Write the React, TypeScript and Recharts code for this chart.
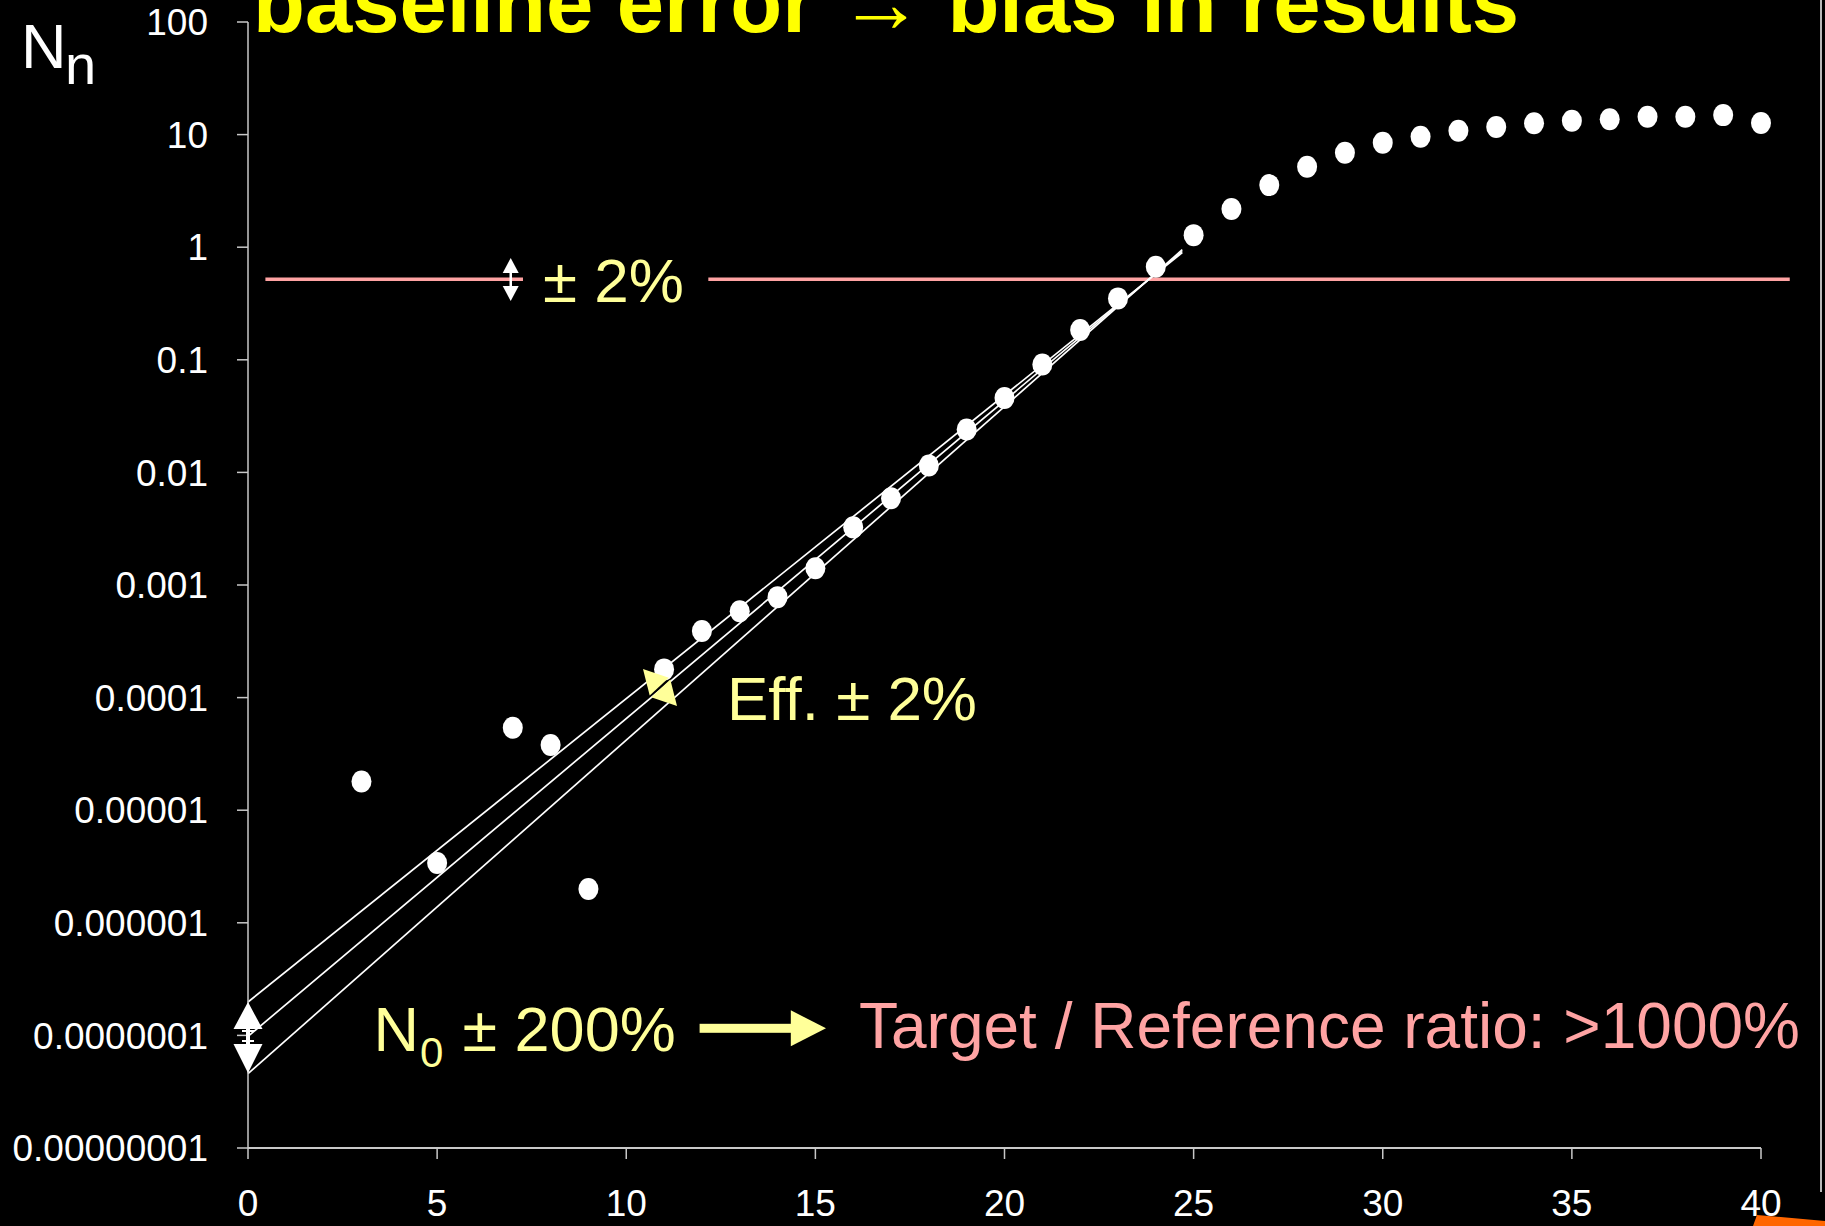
import React from 'react';
import { ComposedChart, XAxis, YAxis, Scatter, Line, ReferenceLine } from 'recharts';

// ---- data ----
const cycles = [3, 5, 7, 8, 9, 11, 12, 13, 14, 15, 16, 17, 18, 19, 20, 21, 22, 23, 24, 25, 26, 27, 28, 29, 30, 31, 32, 33, 34, 35, 36, 37, 38, 39, 40];
const fluorescence = [
  1.8e-5, 3.4e-6, 5.4e-5, 3.8e-5, 2.0e-6,
  1.78e-4, 3.9e-4, 5.85e-4, 7.8e-4, 1.41e-3, 3.25e-3, 5.9e-3,
  0.0115, 0.024, 0.0457, 0.091, 0.184, 0.351, 0.67, 1.28, 2.18,
  3.56, 5.19, 6.9, 8.47, 9.57, 10.8, 11.7, 12.6, 13.3, 13.7, 14.4, 14.4, 14.9, 12.7,
];

const fitCycles = [0, 24.7];
const fitUpper = [1.98e-7, 0.895];
const fitCenter = [9.8e-8, 0.92];
const fitLower = [4.57e-8, 0.95];

const threshold = 0.52;
const thresholdLeft = [0.46, 7.27];
const thresholdRight = [12.17, 40.76];

const xTicks = [0, 5, 10, 15, 20, 25, 30, 35, 40];
const yTicks = [1e-8, 1e-7, 1e-6, 1e-5, 1e-4, 1e-3, 1e-2, 1e-1, 1, 10, 100];
const yTickLabels = ['0.00000001', '0.0000001', '0.000001', '0.00001', '0.0001', '0.001', '0.01', '0.1', '1', '10', '100'];

const titleText = 'baseline error \u2192 bias in results';

// ---- derived tables ----
const points = cycles.map((x, i) => ({ x, y: fluorescence[i] }));
const mk = (vals: number[]) => fitCycles.map((x, i) => ({ x, y: vals[i] }));
const upperData = mk(fitUpper);
const centerData = mk(fitCenter);
const lowerData = mk(fitLower);

const FONT = '"Liberation Sans", Arial, Helvetica, sans-serif';
const PINK = '#FFA3A3';
const PALE_YELLOW = '#FFFF99';
const AXIS = '#C8C8C8';

const formatY = (v: number) => {
  let best = 0;
  let bestD = Infinity;
  yTicks.forEach((t, i) => {
    const d = Math.abs(Math.log10(t) - Math.log10(v));
    if (d < bestD) { bestD = d; best = i; }
  });
  return yTickLabels[best];
};

const Dot = (props: any) => {
  const { cx, cy } = props;
  if (cx == null || cy == null) return <g />;
  return <ellipse cx={cx} cy={cy} rx={10} ry={11} fill="#FFFFFF" />;
};

// Eff. arrow geometry helper
const tri = (tx: number, ty: number, ux: number, uy: number, len: number, half: number) => {
  const bx = tx + ux * len;
  const by = ty + uy * len;
  const nx = -uy;
  const ny = ux;
  return `${tx},${ty} ${bx + nx * half},${by + ny * half} ${bx - nx * half},${by - ny * half}`;
};

export default function App() {
  const ux = 0.677;
  const uy = 0.736;
  return (
    <div style={{ position: 'relative', width: 1825, height: 1226, background: '#000', overflow: 'hidden' }}>
      <style>{'html,body{margin:0;padding:0;background:#000;}'}</style>
      <ComposedChart
        width={1825}
        height={1226}
        margin={{ top: 22, right: 64, bottom: 18, left: 48 }}
        style={{ background: '#000' }}
      >
        <XAxis
          type="number"
          dataKey="x"
          domain={[0, 40]}
          ticks={xTicks}
          interval={0}
          height={60}
          tickSize={11}
          tickMargin={31}
          axisLine={{ stroke: AXIS, strokeWidth: 2 }}
          tickLine={{ stroke: AXIS, strokeWidth: 1.5 }}
          tick={{ fill: '#FFFFFF', fontSize: 37, fontFamily: FONT }}
        />
        <YAxis
          type="number"
          dataKey="y"
          scale="log"
          domain={[1e-8, 100]}
          ticks={yTicks}
          interval={0}
          width={200}
          tickSize={11}
          tickMargin={29}
          tickFormatter={formatY}
          axisLine={{ stroke: AXIS, strokeWidth: 1.5 }}
          tickLine={{ stroke: AXIS, strokeWidth: 1.5 }}
          tick={{ fill: '#FFFFFF', fontSize: 37, fontFamily: FONT }}
        />
        <ReferenceLine
          segment={[{ x: thresholdLeft[0], y: threshold }, { x: thresholdLeft[1], y: threshold }]}
          stroke={PINK}
          strokeWidth={3.5}
          ifOverflow="visible"
        />
        <ReferenceLine
          segment={[{ x: thresholdRight[0], y: threshold }, { x: thresholdRight[1], y: threshold }]}
          stroke={PINK}
          strokeWidth={3.5}
          ifOverflow="visible"
        />
        <Line data={upperData} dataKey="y" type="linear" stroke="#FFFFFF" strokeWidth={1.7} dot={false} activeDot={false} isAnimationActive={false} />
        <Line data={centerData} dataKey="y" type="linear" stroke="#FFFFFF" strokeWidth={1.7} dot={false} activeDot={false} isAnimationActive={false} />
        <Line data={lowerData} dataKey="y" type="linear" stroke="#FFFFFF" strokeWidth={1.7} dot={false} activeDot={false} isAnimationActive={false} />
        <Scatter data={points} dataKey="y" fill="#FFFFFF" shape={Dot} isAnimationActive={false} />
      </ComposedChart>

      <svg
        width={1825}
        height={1226}
        style={{ position: 'absolute', left: 0, top: 0, pointerEvents: 'none' }}
        fontFamily={FONT}
      >
        {/* title (cut off at the top, as in the reference) */}
        <text x={253} y={32} fontSize={85} fontWeight="bold" fill="#FFFF00">{titleText}</text>

        {/* axis title N_n */}
        <text x={21} y={68} fontSize={63} fill="#FFFFFF">N</text>
        <text x={65} y={84} fontSize={56} fill="#FFFFFF">n</text>

        {/* white double arrow on the threshold line */}
        <polygon points="510.7,258 502.7,273 518.7,273" fill="#FFFFFF" />
        <rect x={509.5} y={272} width={2.5} height={15} fill="#FFFFFF" />
        <polygon points="510.7,301 502.7,286 518.7,286" fill="#FFFFFF" />
        <text x={543} y={301.5} fontSize={62} fill={PALE_YELLOW}>± 2%</text>

        {/* Eff. ± 2% */}
        <polygon points={tri(643, 669, ux, uy, 24, 13)} fill={PALE_YELLOW} />
        <polygon points={tri(677, 706, -ux, -uy, 24, 13)} fill={PALE_YELLOW} />
        <text x={727} y={720} fontSize={62} fill={PALE_YELLOW}>Eff. ± 2%</text>

        {/* white double arrow at N0 on the y axis */}
        <polygon points="248,1002 233.5,1029 262.5,1029" fill="#FFFFFF" />
        <rect x={246} y={1028} width={4} height={16} fill="#FFFFFF" />
        <rect x={242} y={1030} width={12} height={2} fill="#FFFFFF" />
        <rect x={242} y={1040} width={12} height={2} fill="#FFFFFF" />
        <polygon points="248,1073 233.5,1044 262.5,1044" fill="#FFFFFF" />

        {/* N0 ± 200% with arrow */}
        <text x={373.5} y={1050.7} fontSize={63} fill={PALE_YELLOW}>N</text>
        <text x={420} y={1067} fontSize={42} fill={PALE_YELLOW}>0</text>
        <text x={462.5} y={1050.7} fontSize={63} fill={PALE_YELLOW}>± 200%</text>
        <rect x={699.6} y={1023.8} width={92} height={9} fill={PALE_YELLOW} />
        <polygon points="790.8,1010.3 826,1028.3 790.8,1046.3" fill={PALE_YELLOW} />

        <text x={859} y={1048.3} fontSize={64} fill={PINK}>Target / Reference ratio: &gt;1000%</text>

        {/* slide decorations */}
        <rect x={1820} y={0} width={2} height={1192} fill="#B8B8B8" />
        <polygon points="1753,1226 1757,1215 1825,1221 1825,1226" fill="#FF6600" />
      </svg>
    </div>
  );
}
